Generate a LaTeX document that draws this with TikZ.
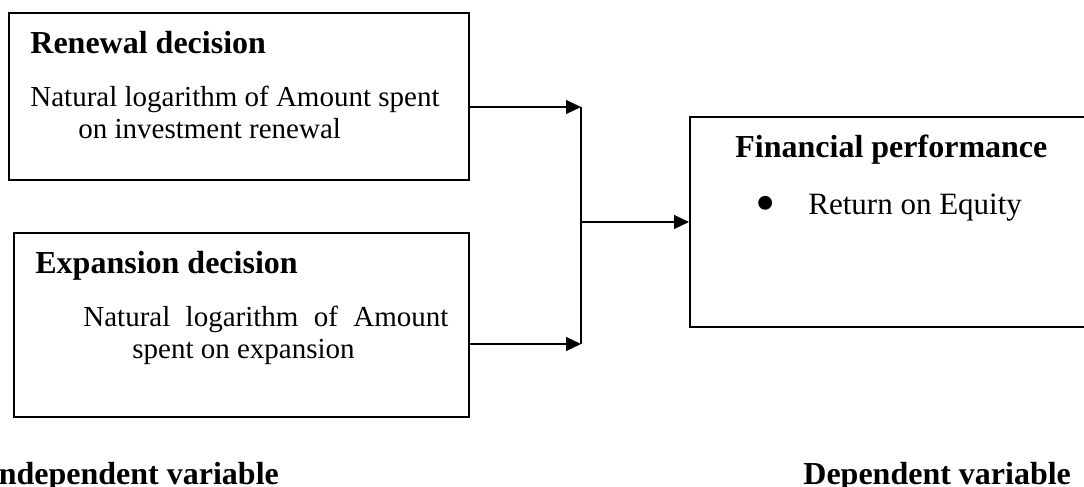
\documentclass[tikz,border=0pt]{standalone}
\usepackage{fontspec}
\setmainfont{Liberation Serif}
\usetikzlibrary{arrows.meta}

\tikzset{
    box/.style={draw, line width=1pt, inner sep=0pt},
    head/.style={anchor=base west, inner sep=0pt, font=\fontsize{16}{19}\selectfont\bfseries},
    txt/.style={anchor=base west, inner sep=0pt, font=\fontsize{14.5}{17}\selectfont},
    arr/.style={-{Triangle[length=7.5pt, width=7pt]}, line width=0.6pt}
}

\begin{document}
\begin{tikzpicture}[x=0.5pt, y=-0.5pt]
        \clip (0, 0) rectangle (1084, 487);
        \node[box, minimum width=230pt, minimum height=83.5pt] (renew) at (239, 96.5) {};
        \node[box, minimum width=227.5pt, minimum height=92pt] (expand) at (241.5, 325) {};
        \node[box, minimum width=200pt, minimum height=105pt] (perf) at (890, 222) {};
        \node[head] (renewhead) at (30, 54) {Renewal decision};
        \node[txt] (renewline1) at (30, 106) {Natural logarithm of Amount spent};
        \node[txt] (renewline2) at (78, 138) {on investment renewal};
        \node[head] (expandhead) at (35, 273) {Expansion decision};
        \node[txt] (expandline1) at (83, 326) {\makebox[182.5pt][s]{Natural logarithm of Amount}};
        \node[txt] (expandline2) at (132, 358) {spent on expansion};
        \node[head] (perfhead) at (735, 157) {Financial performance};
        \node[txt, anchor=base, font=\fontsize{29}{30}\selectfont] (bullet) at (766, 222) {•};
        \node[txt, font=\fontsize{15.5}{18}\selectfont] (roe) at (808, 214) {Return on Equity};
        \node[head] (indep) at (-14, 484) {Independent variable};
        \node[head] (dep) at (803, 484) {Dependent variable};
        \coordinate (top) at (581, 107);
        \coordinate (bot) at (581, 344);
        \coordinate (join) at (581, 222);
        \draw [arr] (renew.east |- top) -- (top);
        \draw [arr] (expand.east |- bot) -- (bot);
        \draw [line width=0.6pt] (top) -- (bot);
        \draw [arr] (join) -- (perf.west |- join);
    \end{tikzpicture}
\end{document}
